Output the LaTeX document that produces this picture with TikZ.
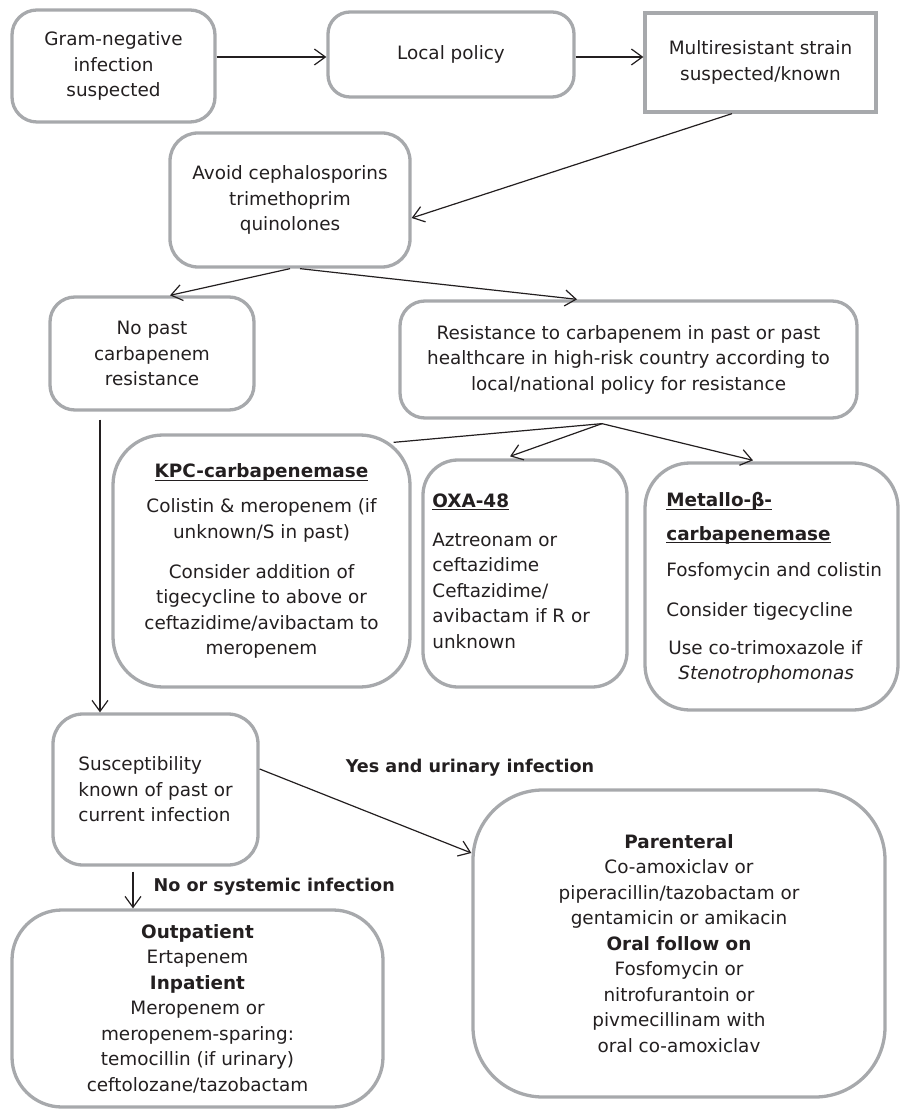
\documentclass[tikz,border=0pt]{standalone}
\usepackage{fontspec}
\setmainfont{DejaVu Sans}
\usetikzlibrary{arrows.meta}
\definecolor{boxgray}{HTML}{A7A9AC}
\definecolor{ink}{HTML}{231F20}
\newcommand\ulbox[1]{\setbox0\hbox{#1}\rlap{\rule[-1.6pt]{\wd0}{0.6pt}}\box0}
\begin{document}
\begin{tikzpicture}[x=0.5pt,y=-0.5pt,
  font=\fontsize{9.2}{12.75}\selectfont, text=ink,
  box/.style={draw=boxgray, line width=1.65pt, align=center, inner sep=0pt},
  arr/.style={draw=ink, line width=0.6pt, -{Straight Barb[length=5.5pt,width=8pt]}},
  conn/.style={draw=ink, line width=0.6pt},
  lbl/.style={font=\fontsize{8.8}{12}\selectfont\bfseries, inner sep=0pt},
  txt/.style={inner sep=0pt, align=left}]

\useasboundingbox (0,0) rectangle (900,1111);

\node[box, rounded corners=12.5pt, minimum width=101.5pt, minimum height=56pt] (b1) at (113.5,66) {Gram-negative\\infection\\suspected};
\node[box, rounded corners=11pt, minimum width=123pt, minimum height=42.5pt] (b2) at (451,54.5) {Local policy};
\node[box, minimum width=115.5pt, minimum height=49.5pt] (b3) at (760.5,62.5) {Multiresistant strain\\suspected/known};
\node[box, rounded corners=14pt, minimum width=120pt, minimum height=67pt] (b4) at (290,200) {Avoid cephalosporins\\trimethoprim\\quinolones};
\node[box, rounded corners=12.5pt, minimum width=102pt, minimum height=56.5pt] (b5) at (152,353.5) {No past\\carbapenem\\resistance};
\node[box, rounded corners=12.5pt, minimum width=228.5pt, minimum height=58.5pt] (b6) at (628.5,359.5) {Resistance to carbapenem in past or past\\healthcare in high-risk country according to\\local/national policy for resistance};
\node[box, rounded corners=25pt, minimum width=148.5pt, minimum height=126pt] (kpc) at (261.5,561) {\ulbox{\textbf{KPC-carbapenemase}}\\[4.75pt]Colistin \& meropenem (if\\unknown/S in past)\\[7.25pt]Consider addition of\\tigecycline to above or\\ceftazidime/avibactam to\\meropenem};
\node[box, rounded corners=17.5pt, minimum width=102pt, minimum height=113.5pt] (oxa) at (525,573.5) {};
\node[box, rounded corners=22.5pt, minimum width=126.5pt, minimum height=123.5pt] (met) at (771.5,586.5) {};
\node[txt, anchor=north west] (oxat) at (432,493) {\ulbox{\textbf{OXA-48}}\\[6.75pt]Aztreonam or\\ceftazidime\\Ceftazidime/\\avibactam if R or\\unknown};
\node[txt, anchor=north west] (mett) at (666,492) {\ulbox{\textbf{Metallo-β-}}\\[4pt]\ulbox{\textbf{carbapenemase}}\\[5.25pt]Fosfomycin and colistin\\[7.25pt]Consider tigecycline\\[6.25pt]\hspace*{1pt}Use co-trimoxazole if\\\hspace*{6pt}\textit{Stenotrophomonas}};
\node[box, rounded corners=15pt, minimum width=102.5pt, minimum height=75.5pt, align=left] (sus) at (155.5,789.5) {Susceptibility\\known of past or\\current infection};
\node[box, rounded corners=25pt, minimum width=185.5pt, minimum height=98.5pt] (out) at (197.5,1008.5) {\textbf{Outpatient}\\Ertapenem\\\textbf{Inpatient}\\Meropenem or\\meropenem-sparing:\\temocillin (if urinary)\\ceftolozane/tazobactam};
\node[box, rounded corners=35pt, minimum width=206pt, minimum height=153.5pt] (par) at (679,943.5) {\textbf{Parenteral}\\Co-amoxiclav or\\piperacillin/tazobactam or\\gentamicin or amikacin\\\textbf{Oral follow on}\\Fosfomycin or\\nitrofurantoin or\\pivmecillinam with\\oral co-amoxiclav};

% connectors
\draw[arr] ([yshift=4.5pt]b1.east) -- ([yshift=-1.25pt]b2.west);
\draw[arr] ([yshift=-1.25pt]b2.east) -- ([yshift=2.75pt]b3.west);
\draw[arr] ([xshift=-14.25pt]b3.south) -- ([yshift=-9pt]b4.east);
\draw[arr] (b4.south) -- ([xshift=9pt]b5.north);
\draw[arr] ([xshift=5pt]b4.south) -- ([xshift=-25.75pt]b6.north);
\coordinate (s6) at ([xshift=-13.25pt,yshift=-2pt]b6.south);
\draw[conn] (s6) -- ([xshift=-9pt,yshift=-4.5pt]kpc.north east);
\draw[arr] (s6) -- ([xshift=-7.5pt,yshift=1pt]oxa.north);
\draw[arr] (s6) -- ([xshift=-9.25pt,yshift=0.5pt]met.north);
\coordinate (v1) at ([xshift=-26pt,yshift=-4pt]b5.south);
\draw[arr] (v1) -- (v1 |- sus.north);
\draw[arr] ([yshift=10.25pt]sus.east) -- ([yshift=45.25pt]par.west);
\coordinate (v2) at ([xshift=-11.25pt,yshift=-2.5pt]sus.south);
\draw[arr] (v2) -- node[lbl, anchor=west, xshift=10pt, yshift=1.5pt] (lno) {No or systemic infection} (v2 |- out.north);
\node[lbl] (lyes) at (470,768) {Yes and urinary infection};
\end{tikzpicture}
\end{document}
